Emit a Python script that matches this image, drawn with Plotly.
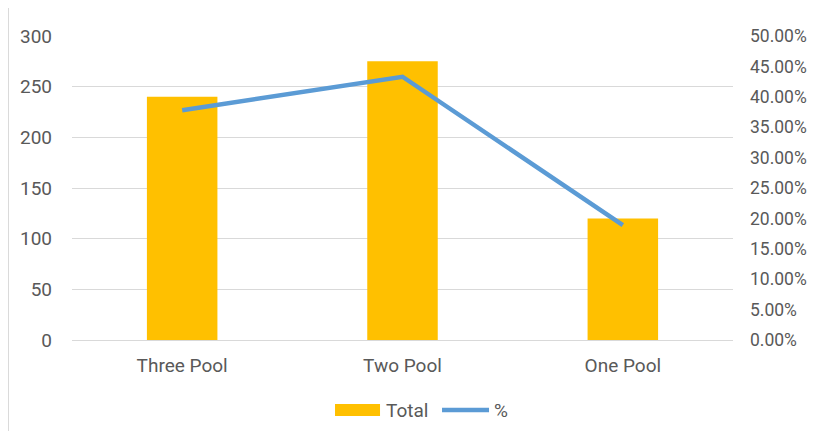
import plotly.graph_objects as go

categories = ["Three Pool", "Two Pool", "One Pool"]
totals = [240, 275, 120]
percents = [0.378, 0.433, 0.189]

font_family = "Roboto, Arial, sans-serif"
grey = "#595959"
bar_color = "#FFC000"
line_color = "#5B9BD5"

fig = go.Figure()
fig.add_trace(go.Bar(
    x=categories, y=totals, name="Total",
    marker=dict(color=bar_color, line=dict(width=0)),
    width=0.32, yaxis="y", showlegend=False,
))
fig.add_trace(go.Scatter(
    x=categories, y=percents, name="%", mode="lines",
    line=dict(color=line_color, width=4.5), yaxis="y2", showlegend=False,
))

# custom legend (paper coordinates)
shapes = [
    dict(type="line", xref="paper", yref="paper", x0=-0.0961, x1=-0.0961,
         y0=-0.30, y1=1.1, line=dict(color="#D9D9D9", width=1)),
    dict(type="rect", xref="paper", yref="paper", x0=0.3979, x1=0.4660,
         y0=-0.25, y1=-0.2105, fillcolor=bar_color, line=dict(width=0)),
    dict(type="line", xref="paper", yref="paper", x0=0.5598, x1=0.6309,
         y0=-0.2303, y1=-0.2303, line=dict(color=line_color, width=4.5)),
]
annotations = [
    dict(text="Total", xref="paper", yref="paper", x=0.4720, y=-0.2303,
         xanchor="left", yanchor="middle", showarrow=False,
         font=dict(size=19, color=grey, family=font_family)),
    dict(text="%", xref="paper", yref="paper", x=0.6354, y=-0.2303,
         xanchor="left", yanchor="middle", showarrow=False,
         font=dict(size=19, color=grey, family=font_family)),
]

fig.update_layout(
    width=808, height=423,
    margin=dict(l=64, r=83, t=28, b=91, autoexpand=False),
    paper_bgcolor="white", plot_bgcolor="white",
    font=dict(family=font_family, size=19, color=grey),
    showlegend=False,
    xaxis=dict(showgrid=False, showline=False, ticks="", ticklabelstandoff=12,
               automargin=False, tickfont=dict(size=19, color=grey)),
    yaxis=dict(range=[0, 300], dtick=50, showgrid=True, gridcolor="#D9D9D9", gridwidth=1,
               zeroline=True, zerolinecolor="#D9D9D9", zerolinewidth=1, automargin=False,
               ticks="", ticklabelstandoff=19, tickfont=dict(size=19, color=grey)),
    yaxis2=dict(range=[0, 0.5], dtick=0.05, tickformat=".2%", overlaying="y", side="right",
                showgrid=False, zeroline=False, ticks="", ticklabelstandoff=16,
                automargin=False, tickfont=dict(size=17.5, color=grey)),
    shapes=shapes,
    annotations=annotations,
)

fig.write_html("out.html")
